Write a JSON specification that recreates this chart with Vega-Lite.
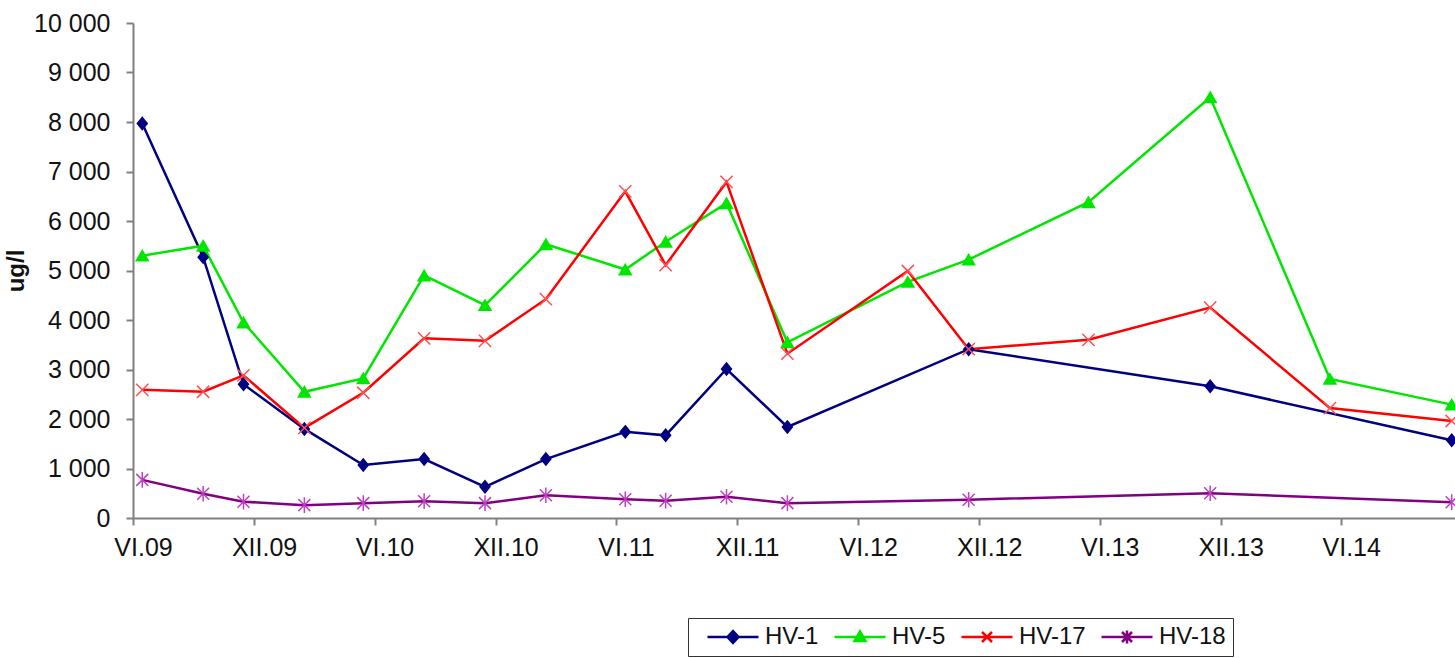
{
  "$schema": "https://vega.github.io/schema/vega-lite/v6.json",
  "width": 1322,
  "height": 495,
  "autosize": {"type": "none"},
  "padding": {"left": 133, "top": 23, "right": 0, "bottom": 140},
  "background": "white",
  "config": {
    "view": {"stroke": null},
    "font": "Liberation Sans",
    "axis": {
      "grid": false,
      "domainColor": "#808080",
      "domainWidth": 2,
      "tickColor": "#808080",
      "tickWidth": 2,
      "tickSize": 7,
      "labelFont": "Liberation Sans",
      "labelFontSize": 25,
      "labelColor": "#111111",
      "titleFont": "Liberation Sans",
      "titleColor": "#111111"
    }
  },
  "data": {
    "values": [
      {"date": "2009-06-15", "series": "HV-1", "value": 7970},
      {"date": "2009-09-15", "series": "HV-1", "value": 5270},
      {"date": "2009-11-15", "series": "HV-1", "value": 2700},
      {"date": "2010-02-15", "series": "HV-1", "value": 1800},
      {"date": "2010-05-15", "series": "HV-1", "value": 1070},
      {"date": "2010-08-15", "series": "HV-1", "value": 1190},
      {"date": "2010-11-15", "series": "HV-1", "value": 630},
      {"date": "2011-02-15", "series": "HV-1", "value": 1190},
      {"date": "2011-06-15", "series": "HV-1", "value": 1740},
      {"date": "2011-08-15", "series": "HV-1", "value": 1670},
      {"date": "2011-11-15", "series": "HV-1", "value": 3010},
      {"date": "2012-02-15", "series": "HV-1", "value": 1840},
      {"date": "2012-11-15", "series": "HV-1", "value": 3410},
      {"date": "2013-11-15", "series": "HV-1", "value": 2660},
      {"date": "2014-11-15", "series": "HV-1", "value": 1570},

      {"date": "2009-06-15", "series": "HV-5", "value": 5300},
      {"date": "2009-09-15", "series": "HV-5", "value": 5500},
      {"date": "2009-11-15", "series": "HV-5", "value": 3950},
      {"date": "2010-02-15", "series": "HV-5", "value": 2550},
      {"date": "2010-05-15", "series": "HV-5", "value": 2820},
      {"date": "2010-08-15", "series": "HV-5", "value": 4900},
      {"date": "2010-11-15", "series": "HV-5", "value": 4300},
      {"date": "2011-02-15", "series": "HV-5", "value": 5530},
      {"date": "2011-06-15", "series": "HV-5", "value": 5020},
      {"date": "2011-08-15", "series": "HV-5", "value": 5580},
      {"date": "2011-11-15", "series": "HV-5", "value": 6360},
      {"date": "2012-02-15", "series": "HV-5", "value": 3550},
      {"date": "2012-08-15", "series": "HV-5", "value": 4770},
      {"date": "2012-11-15", "series": "HV-5", "value": 5220},
      {"date": "2013-05-15", "series": "HV-5", "value": 6380},
      {"date": "2013-11-15", "series": "HV-5", "value": 8500},
      {"date": "2014-05-15", "series": "HV-5", "value": 2810},
      {"date": "2014-11-15", "series": "HV-5", "value": 2290},

      {"date": "2009-06-15", "series": "HV-17", "value": 2590},
      {"date": "2009-09-15", "series": "HV-17", "value": 2550},
      {"date": "2009-11-15", "series": "HV-17", "value": 2880},
      {"date": "2010-02-15", "series": "HV-17", "value": 1820},
      {"date": "2010-05-15", "series": "HV-17", "value": 2530},
      {"date": "2010-08-15", "series": "HV-17", "value": 3630},
      {"date": "2010-11-15", "series": "HV-17", "value": 3580},
      {"date": "2011-02-15", "series": "HV-17", "value": 4420},
      {"date": "2011-06-15", "series": "HV-17", "value": 6600},
      {"date": "2011-08-15", "series": "HV-17", "value": 5110},
      {"date": "2011-11-15", "series": "HV-17", "value": 6790},
      {"date": "2012-02-15", "series": "HV-17", "value": 3320},
      {"date": "2012-08-15", "series": "HV-17", "value": 4990},
      {"date": "2012-11-15", "series": "HV-17", "value": 3410},
      {"date": "2013-05-15", "series": "HV-17", "value": 3600},
      {"date": "2013-11-15", "series": "HV-17", "value": 4250},
      {"date": "2014-05-15", "series": "HV-17", "value": 2220},
      {"date": "2014-11-15", "series": "HV-17", "value": 1960},

      {"date": "2009-06-15", "series": "HV-18", "value": 770},
      {"date": "2009-09-15", "series": "HV-18", "value": 490},
      {"date": "2009-11-15", "series": "HV-18", "value": 330},
      {"date": "2010-02-15", "series": "HV-18", "value": 260},
      {"date": "2010-05-15", "series": "HV-18", "value": 300},
      {"date": "2010-08-15", "series": "HV-18", "value": 340},
      {"date": "2010-11-15", "series": "HV-18", "value": 300},
      {"date": "2011-02-15", "series": "HV-18", "value": 460},
      {"date": "2011-06-15", "series": "HV-18", "value": 380},
      {"date": "2011-08-15", "series": "HV-18", "value": 350},
      {"date": "2011-11-15", "series": "HV-18", "value": 430},
      {"date": "2012-02-15", "series": "HV-18", "value": 300},
      {"date": "2012-11-15", "series": "HV-18", "value": 370},
      {"date": "2013-11-15", "series": "HV-18", "value": 500},
      {"date": "2014-11-15", "series": "HV-18", "value": 320}
    ]
  },
  "encoding": {
    "x": {
      "field": "date",
      "type": "temporal",
      "scale": {
        "type": "utc",
        "domain": [
          {"year": 2009, "month": 6, "date": 1, "utc": true},
          {"year": 2014, "month": 11, "date": 20, "utc": true}
        ]
      },
      "axis": {
        "title": null,
        "values": [
          {"year": 2009, "month": 6, "date": 1, "utc": true},
          {"year": 2009, "month": 12, "date": 1, "utc": true},
          {"year": 2010, "month": 6, "date": 1, "utc": true},
          {"year": 2010, "month": 12, "date": 1, "utc": true},
          {"year": 2011, "month": 6, "date": 1, "utc": true},
          {"year": 2011, "month": 12, "date": 1, "utc": true},
          {"year": 2012, "month": 6, "date": 1, "utc": true},
          {"year": 2012, "month": 12, "date": 1, "utc": true},
          {"year": 2013, "month": 6, "date": 1, "utc": true},
          {"year": 2013, "month": 12, "date": 1, "utc": true},
          {"year": 2014, "month": 6, "date": 1, "utc": true}
        ],
        "labelExpr": "(utcmonth(datum.value) == 5 ? 'VI.' : 'XII.') + utcFormat(datum.value, '%y')",
        "labelOffset": 10,
        "labelPadding": 10,
        "labelFlush": false,
        "labelOverlap": false
      }
    },
    "y": {
      "field": "value",
      "type": "quantitative",
      "scale": {"domain": [0, 10000], "nice": false},
      "axis": {
        "title": "ug/l",
        "titleFontSize": 24,
        "titleFontWeight": "bold",
        "titlePadding": 5,
        "values": [0, 1000, 2000, 3000, 4000, 5000, 6000, 7000, 8000, 9000, 10000],
        "labelExpr": "replace(format(datum.value, ','), ',', ' ')",
        "labelPadding": 16
      }
    }
  },
  "layer": [
    {
      "mark": {"type": "line", "strokeWidth": 2.5},
      "encoding": {
        "color": {
          "field": "series",
          "type": "nominal",
          "sort": ["HV-1", "HV-5", "HV-17", "HV-18"],
          "scale": {
            "domain": ["HV-1", "HV-5", "HV-17", "HV-18"],
            "range": ["#000080", "#00e600", "#ff0000", "#800080"]
          },
          "legend": {
            "orient": "none",
            "legendX": 555,
            "legendY": 595,
            "direction": "horizontal",
            "title": null,
            "labelFont": "Liberation Sans",
            "labelFontSize": 24,
            "labelColor": "#111111",
            "labelOffset": 20,
            "columnPadding": 3,
            "symbolSize": 400,
            "symbolStrokeWidth": 2.5,
            "symbolOffset": 26,
            "symbolType": {"expr": "datum.value == 'HV-1' ? 'M-2.55,0L2.55,0M0,-0.6L0.55,0L0,0.6L-0.55,0Z' : datum.value == 'HV-5' ? 'M-2.55,0L2.55,0M0,-0.55L0.55,0.4L-0.55,0.4Z' : datum.value == 'HV-17' ? 'M-2.55,0L2.55,0M-0.5,-0.5L0.5,0.5M-0.5,0.5L0.5,-0.5' : 'M-2.55,0L2.55,0M-0.5,-0.5L0.5,0.5M-0.5,0.5L0.5,-0.5M0,-0.65L0,0.65'"},
            "symbolFillColor": {"expr": "datum.value == 'HV-1' ? '#000080' : datum.value == 'HV-5' ? '#00e600' : 'transparent'"},
            "strokeColor": "#333333",
            "padding": 7,
            "fillColor": "white"
          }
        }
      }
    },
    {
      "transform": [{"filter": {"field": "series", "equal": "HV-1"}}],
      "mark": {"type": "point", "shape": "M0,-1.1L0.9,0L0,1.1L-0.9,0Z", "size": 121, "filled": true, "fill": "#000080", "stroke": "#000080", "strokeWidth": 1.5, "opacity": 1}
    },
    {
      "transform": [{"filter": {"field": "series", "equal": "HV-5"}}],
      "mark": {"type": "point", "shape": "triangle-up", "size": 144, "filled": true, "fill": "#00e600", "stroke": "#00e600", "strokeWidth": 1.5, "opacity": 1}
    },
    {
      "transform": [{"filter": {"field": "series", "equal": "HV-17"}}],
      "mark": {"type": "point", "shape": "M-1,-1L1,1M-1,1L1,-1", "size": 150, "filled": false, "fill": "transparent", "stroke": "#ff5050", "strokeWidth": 1.5, "opacity": 1}
    },
    {
      "transform": [{"filter": {"field": "series", "equal": "HV-18"}}],
      "mark": {"type": "point", "shape": "M-1,-1L1,1M-1,1L1,-1M0,-1.3L0,1.3", "size": 144, "filled": false, "fill": "transparent", "stroke": "#c040c0", "strokeWidth": 1.5, "opacity": 1}
    }
  ]
}
